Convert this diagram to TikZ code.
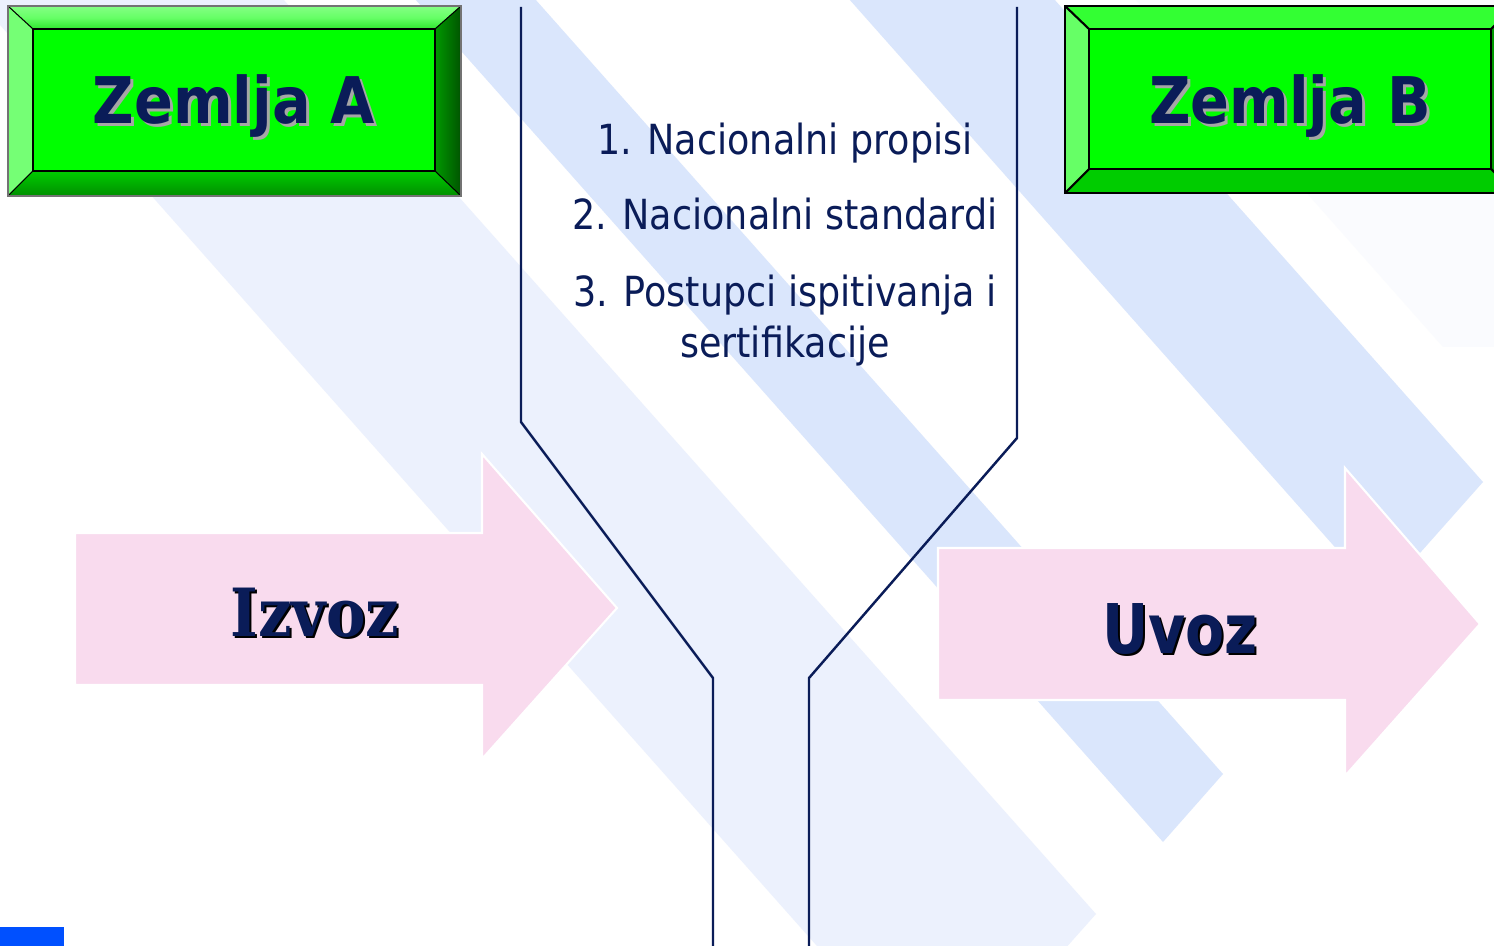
\documentclass[tikz,border=0pt]{standalone}
\usepackage{fontspec}
\newfontfamily\tahb[FakeStretch=0.89]{DejaVu Sans}
\newfontfamily\tahm[FakeStretch=0.88]{DejaVu Sans}
\newfontfamily\uvf[FakeStretch=0.83]{DejaVu Sans}
\newfontfamily\izf[FakeStretch=0.89]{DejaVu Serif}
\definecolor{navy}{RGB}{10,28,88}
\definecolor{stripeD}{RGB}{218,230,252}
\definecolor{stripeL}{RGB}{236,241,253}
\definecolor{stripeF}{RGB}{250,251,254}
\definecolor{pinkA}{RGB}{249,219,238}
\definecolor{gInner}{RGB}{0,255,0}
\definecolor{gLight}{RGB}{102,255,102}
\definecolor{gTop}{RGB}{51,255,51}
\definecolor{gBottom}{RGB}{0,204,0}
\definecolor{gRight}{RGB}{0,153,0}
\definecolor{blueSq}{RGB}{0,80,255}
\tikzset{
  funnel/.style={draw=navy, line width=0.7pt},
  stripedark/.style={fill=stripeD},
  stripelight/.style={fill=stripeL},
  pinkarrow/.style={fill=pinkA, draw=white, line width=0.6pt},
  bevel/.style={draw=black, line width=0.3pt},
  bevelB/.style={draw=black, line width=0.6pt},
  title/.style={font=\tahb\bfseries\fontsize{18.3pt}{18.3pt}\selectfont, text=navy, anchor=base, inner sep=0pt},
  titleshadow/.style={title, text=black!35},
  item/.style={font=\tahm\fontsize{11.8pt}{11.8pt}\selectfont, text=navy, anchor=base, inner sep=0pt},
  uvtext/.style={font=\uvf\bfseries\fontsize{19.5pt}{19.5pt}\selectfont, text=navy, anchor=base, inner sep=0pt},
  iztext/.style={font=\izf\bfseries\fontsize{18.9pt}{18.9pt}\selectfont, text=navy, anchor=base, inner sep=0pt},
  blackshadow/.style={text=black}
}
\begin{document}
\begin{tikzpicture}[x=0.01cm, y=-0.01cm]
\useasboundingbox (0,0) rectangle (1494,946);
\clip (0,0) rectangle (1494,946);
\fill[white] (0,0) rectangle (1494,946);

% background stripes
\fill[stripelight] (-31,-10) -- (275,-10) -- (1096,914) -- (942,1087) -- cycle;
\fill[stripedark] (407,-10) -- (527,-10) -- (1223,774) -- (1163,842) -- cycle;
\fill[stripedark] (841,-10) -- (1046,-10) -- (1483,482) -- (1380,598) -- cycle;
\fill[stripeF] (1127,-10) -- (1600,-10) -- (1600,347) -- (1443,347) -- cycle;

% funnel
\coordinate (la) at (521,7);
\coordinate (lb) at (521,422);
\coordinate (lc) at (713,678);
\coordinate (ld) at (713,950);
\coordinate (ra) at (1017,7);
\coordinate (rb) at (1017,438);
\coordinate (rc) at (809,678);
\coordinate (rd) at (809,950);
\draw[funnel] (la) -- (lb) -- (lc) -- (ld);
\draw[funnel] (ra) -- (rb) -- (rc) -- (rd);

% box A (bevel)
\shade[top color=gLight!80!white, bottom color=gTop!90!black, middle color=gLight] (8,6) -- (461,6) -- (435,29) -- (33,29) -- cycle;
\fill[gLight!90!white] (8,6) -- (33,29) -- (33,171) -- (8,196) -- cycle;
\shade[left color=gRight, right color=gRight!55!black] (461,6) -- (461,196) -- (435,171) -- (435,29) -- cycle;
\shade[top color=gBottom, bottom color=gBottom!70!black] (8,196) -- (33,171) -- (435,171) -- (461,196) -- cycle;
\fill[gInner] (33,29) rectangle (435,171);
\draw[bevel] (33,29) rectangle (435,171);
\draw[bevel] (8,6) -- (33,29) (461,6) -- (435,29) (8,196) -- (33,171) (461,196) -- (435,171);
\draw[draw=black!55, line width=0.5pt] (8,6) rectangle (461,196);

% box B (bevel)
\fill[gTop] (1065,6) -- (1515,6) -- (1491,29) -- (1089,29) -- cycle;
\fill[gLight] (1065,6) -- (1089,29) -- (1089,169) -- (1065,193) -- cycle;
\fill[gRight] (1515,6) -- (1515,193) -- (1491,169) -- (1491,29) -- cycle;
\fill[gBottom] (1065,193) -- (1089,169) -- (1491,169) -- (1515,193) -- cycle;
\fill[gInner] (1089,29) rectangle (1491,169);
\draw[bevelB] (1089,29) rectangle (1491,169);
\draw[bevelB] (1065,6) -- (1089,29) (1515,6) -- (1491,29) (1065,193) -- (1089,169) (1515,193) -- (1491,169);
\draw[bevelB] (1065,6) rectangle (1515,193);

% titles
\node[titleshadow] (zAs) at (237,127) {Zemlja A};
\node[title] (zA) at (234,124) {Zemlja A};
\node[titleshadow] (zBs) at (1293,127) {Zemlja B};
\node[title] (zB) at (1290,124) {Zemlja B};

% middle list
\node[item] (t1) at (785,155) {1. Nacionalni propisi};
\node[item] (t2) at (785,230) {2. Nacionalni standardi};
\node[item] (t3) at (785,307) {3. Postupci ispitivanja i};
\node[item] (t4) at (785,358) {sertifikacije};

% pink arrows
\path[pinkarrow] (75,533) -- (482,533) -- (482,454) -- (617,608) -- (482,759) -- (482,685) -- (75,685) -- cycle;
\path[pinkarrow] (938,548) -- (1345,548) -- (1345,468) -- (1480,624) -- (1345,776) -- (1345,700) -- (938,700) -- cycle;

\node[iztext, blackshadow] (izs) at (317,638) {Izvoz};
\node[iztext] (iz) at (315,636) {Izvoz};
\node[uvtext, blackshadow] (uvs) at (1182,655) {Uvoz};
\node[uvtext] (uv) at (1180,653) {Uvoz};

% blue square
\fill[blueSq] (0,927) rectangle (64,946);
\end{tikzpicture}
\end{document}
